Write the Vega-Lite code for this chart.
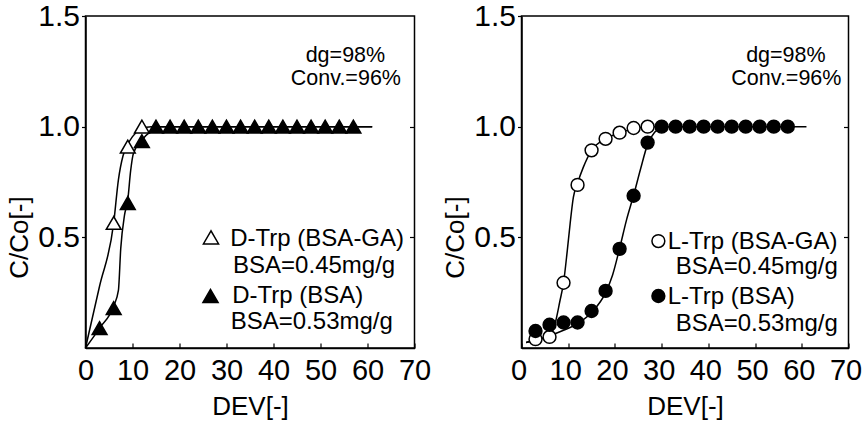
{
  "$schema": "https://vega.github.io/schema/vega-lite/v6.json",
  "background": "white",
  "padding": {"left": 5.5, "top": 0, "right": 0, "bottom": 0},
  "spacing": 10,
  "config": {
    "font": "Liberation Sans",
    "view": {"stroke": "black", "strokeWidth": 1.5},
    "axis": {"grid": false, "domainColor": "black", "tickColor": "black", "labelColor": "black", "titleColor": "black", "titleFontWeight": "normal", "labelFont": "Liberation Sans", "titleFont": "Liberation Sans", "domainWidth": 1.5, "tickWidth": 1.2}
  },
  "datasets": {
    "curves": [
      {"panel": "D", "series": "D-Trp (BSA-GA)", "x": 0, "y": 0},
      {"panel": "D", "series": "D-Trp (BSA-GA)", "x": 3, "y": 0.28},
      {"panel": "D", "series": "D-Trp (BSA-GA)", "x": 6, "y": 0.565},
      {"panel": "D", "series": "D-Trp (BSA-GA)", "x": 7, "y": 0.76},
      {"panel": "D", "series": "D-Trp (BSA-GA)", "x": 8, "y": 0.87},
      {"panel": "D", "series": "D-Trp (BSA-GA)", "x": 9, "y": 0.92},
      {"panel": "D", "series": "D-Trp (BSA-GA)", "x": 10, "y": 0.955},
      {"panel": "D", "series": "D-Trp (BSA-GA)", "x": 12, "y": 0.99},
      {"panel": "D", "series": "D-Trp (BSA-GA)", "x": 14, "y": 1.0},
      {"panel": "D", "series": "D-Trp (BSA-GA)", "x": 61, "y": 1.0},
      {"panel": "D", "series": "D-Trp (BSA)", "x": 0, "y": 0},
      {"panel": "D", "series": "D-Trp (BSA)", "x": 3, "y": 0.09},
      {"panel": "D", "series": "D-Trp (BSA)", "x": 6, "y": 0.19},
      {"panel": "D", "series": "D-Trp (BSA)", "x": 7, "y": 0.26},
      {"panel": "D", "series": "D-Trp (BSA)", "x": 7.5, "y": 0.45},
      {"panel": "D", "series": "D-Trp (BSA)", "x": 8.3, "y": 0.6},
      {"panel": "D", "series": "D-Trp (BSA)", "x": 9, "y": 0.67},
      {"panel": "D", "series": "D-Trp (BSA)", "x": 9.6, "y": 0.8},
      {"panel": "D", "series": "D-Trp (BSA)", "x": 10.2, "y": 0.88},
      {"panel": "D", "series": "D-Trp (BSA)", "x": 12, "y": 0.94},
      {"panel": "D", "series": "D-Trp (BSA)", "x": 14, "y": 0.98},
      {"panel": "D", "series": "D-Trp (BSA)", "x": 16, "y": 1.0},
      {"panel": "D", "series": "D-Trp (BSA)", "x": 61, "y": 1.0},
      {"panel": "L", "series": "L-Trp (BSA-GA)", "x": 1, "y": 0.025},
      {"panel": "L", "series": "L-Trp (BSA-GA)", "x": 3, "y": 0.037},
      {"panel": "L", "series": "L-Trp (BSA-GA)", "x": 6, "y": 0.05},
      {"panel": "L", "series": "L-Trp (BSA-GA)", "x": 7.3, "y": 0.12},
      {"panel": "L", "series": "L-Trp (BSA-GA)", "x": 8.2, "y": 0.21},
      {"panel": "L", "series": "L-Trp (BSA-GA)", "x": 9, "y": 0.295},
      {"panel": "L", "series": "L-Trp (BSA-GA)", "x": 9.8, "y": 0.44},
      {"panel": "L", "series": "L-Trp (BSA-GA)", "x": 10.4, "y": 0.56},
      {"panel": "L", "series": "L-Trp (BSA-GA)", "x": 11.1, "y": 0.68},
      {"panel": "L", "series": "L-Trp (BSA-GA)", "x": 12, "y": 0.745},
      {"panel": "L", "series": "L-Trp (BSA-GA)", "x": 13.2, "y": 0.815},
      {"panel": "L", "series": "L-Trp (BSA-GA)", "x": 15, "y": 0.893},
      {"panel": "L", "series": "L-Trp (BSA-GA)", "x": 18, "y": 0.945},
      {"panel": "L", "series": "L-Trp (BSA-GA)", "x": 21, "y": 0.972},
      {"panel": "L", "series": "L-Trp (BSA-GA)", "x": 24, "y": 0.99},
      {"panel": "L", "series": "L-Trp (BSA-GA)", "x": 27, "y": 1.0},
      {"panel": "L", "series": "L-Trp (BSA-GA)", "x": 30, "y": 1.0},
      {"panel": "L", "series": "L-Trp (BSA)", "x": 1, "y": 0.025},
      {"panel": "L", "series": "L-Trp (BSA)", "x": 3, "y": 0.035},
      {"panel": "L", "series": "L-Trp (BSA)", "x": 6, "y": 0.055},
      {"panel": "L", "series": "L-Trp (BSA)", "x": 9, "y": 0.08},
      {"panel": "L", "series": "L-Trp (BSA)", "x": 12, "y": 0.11},
      {"panel": "L", "series": "L-Trp (BSA)", "x": 15, "y": 0.16},
      {"panel": "L", "series": "L-Trp (BSA)", "x": 18, "y": 0.25},
      {"panel": "L", "series": "L-Trp (BSA)", "x": 19.5, "y": 0.33},
      {"panel": "L", "series": "L-Trp (BSA)", "x": 21, "y": 0.45},
      {"panel": "L", "series": "L-Trp (BSA)", "x": 22.5, "y": 0.58},
      {"panel": "L", "series": "L-Trp (BSA)", "x": 24, "y": 0.69},
      {"panel": "L", "series": "L-Trp (BSA)", "x": 25.5, "y": 0.81},
      {"panel": "L", "series": "L-Trp (BSA)", "x": 27, "y": 0.92},
      {"panel": "L", "series": "L-Trp (BSA)", "x": 28.5, "y": 0.975},
      {"panel": "L", "series": "L-Trp (BSA)", "x": 30, "y": 0.995},
      {"panel": "L", "series": "L-Trp (BSA)", "x": 32, "y": 1.0},
      {"panel": "L", "series": "L-Trp (BSA)", "x": 61, "y": 1.0}
    ],
    "points": [
      {"panel": "D", "series": "D-Trp (BSA-GA)", "x": 6, "y": 0.565},
      {"panel": "D", "series": "D-Trp (BSA-GA)", "x": 9, "y": 0.91},
      {"panel": "D", "series": "D-Trp (BSA-GA)", "x": 12, "y": 1.0},
      {"panel": "D", "series": "D-Trp (BSA)", "x": 3, "y": 0.09},
      {"panel": "D", "series": "D-Trp (BSA)", "x": 6, "y": 0.18},
      {"panel": "D", "series": "D-Trp (BSA)", "x": 9, "y": 0.655},
      {"panel": "D", "series": "D-Trp (BSA)", "x": 12, "y": 0.935},
      {"panel": "D", "series": "D-Trp (BSA)", "x": 15, "y": 1.0},
      {"panel": "D", "series": "D-Trp (BSA)", "x": 18, "y": 1.0},
      {"panel": "D", "series": "D-Trp (BSA)", "x": 21, "y": 1.0},
      {"panel": "D", "series": "D-Trp (BSA)", "x": 24, "y": 1.0},
      {"panel": "D", "series": "D-Trp (BSA)", "x": 27, "y": 1.0},
      {"panel": "D", "series": "D-Trp (BSA)", "x": 30, "y": 1.0},
      {"panel": "D", "series": "D-Trp (BSA)", "x": 33, "y": 1.0},
      {"panel": "D", "series": "D-Trp (BSA)", "x": 36, "y": 1.0},
      {"panel": "D", "series": "D-Trp (BSA)", "x": 39, "y": 1.0},
      {"panel": "D", "series": "D-Trp (BSA)", "x": 42, "y": 1.0},
      {"panel": "D", "series": "D-Trp (BSA)", "x": 45, "y": 1.0},
      {"panel": "D", "series": "D-Trp (BSA)", "x": 48, "y": 1.0},
      {"panel": "D", "series": "D-Trp (BSA)", "x": 51, "y": 1.0},
      {"panel": "D", "series": "D-Trp (BSA)", "x": 54, "y": 1.0},
      {"panel": "D", "series": "D-Trp (BSA)", "x": 57, "y": 1.0},
      {"panel": "L", "series": "L-Trp (BSA-GA)", "x": 3, "y": 0.04},
      {"panel": "L", "series": "L-Trp (BSA-GA)", "x": 6, "y": 0.05},
      {"panel": "L", "series": "L-Trp (BSA-GA)", "x": 9, "y": 0.295},
      {"panel": "L", "series": "L-Trp (BSA-GA)", "x": 12, "y": 0.737},
      {"panel": "L", "series": "L-Trp (BSA-GA)", "x": 15, "y": 0.893},
      {"panel": "L", "series": "L-Trp (BSA-GA)", "x": 18, "y": 0.945},
      {"panel": "L", "series": "L-Trp (BSA-GA)", "x": 21, "y": 0.973},
      {"panel": "L", "series": "L-Trp (BSA-GA)", "x": 24, "y": 0.994},
      {"panel": "L", "series": "L-Trp (BSA-GA)", "x": 27, "y": 1.0},
      {"panel": "L", "series": "L-Trp (BSA)", "x": 3, "y": 0.077},
      {"panel": "L", "series": "L-Trp (BSA)", "x": 6, "y": 0.105},
      {"panel": "L", "series": "L-Trp (BSA)", "x": 9, "y": 0.115},
      {"panel": "L", "series": "L-Trp (BSA)", "x": 12, "y": 0.115},
      {"panel": "L", "series": "L-Trp (BSA)", "x": 15, "y": 0.167},
      {"panel": "L", "series": "L-Trp (BSA)", "x": 18, "y": 0.258},
      {"panel": "L", "series": "L-Trp (BSA)", "x": 21, "y": 0.448},
      {"panel": "L", "series": "L-Trp (BSA)", "x": 24, "y": 0.688},
      {"panel": "L", "series": "L-Trp (BSA)", "x": 27, "y": 0.928},
      {"panel": "L", "series": "L-Trp (BSA)", "x": 30, "y": 1.0},
      {"panel": "L", "series": "L-Trp (BSA)", "x": 33, "y": 1.0},
      {"panel": "L", "series": "L-Trp (BSA)", "x": 36, "y": 1.0},
      {"panel": "L", "series": "L-Trp (BSA)", "x": 39, "y": 1.0},
      {"panel": "L", "series": "L-Trp (BSA)", "x": 42, "y": 1.0},
      {"panel": "L", "series": "L-Trp (BSA)", "x": 45, "y": 1.0},
      {"panel": "L", "series": "L-Trp (BSA)", "x": 48, "y": 1.0},
      {"panel": "L", "series": "L-Trp (BSA)", "x": 51, "y": 1.0},
      {"panel": "L", "series": "L-Trp (BSA)", "x": 54, "y": 1.0},
      {"panel": "L", "series": "L-Trp (BSA)", "x": 57, "y": 1.0}
    ],
    "keys": [
      {"panel": "D", "series": "D-Trp (BSA-GA)", "x": 26.7, "y": 0.5},
      {"panel": "D", "series": "D-Trp (BSA)", "x": 26.6, "y": 0.235},
      {"panel": "L", "series": "L-Trp (BSA-GA)", "x": 29.3, "y": 0.483},
      {"panel": "L", "series": "L-Trp (BSA)", "x": 29.3, "y": 0.235}
    ],
    "labels": [
      {"panel": "D", "text": "D-Trp (BSA-GA)", "x": 30.8, "y": 0.461},
      {"panel": "D", "text": "BSA=0.45mg/g", "x": 31.4, "y": 0.339},
      {"panel": "D", "text": "D-Trp (BSA)", "x": 31.2, "y": 0.203},
      {"panel": "D", "text": "BSA=0.53mg/g", "x": 30.9, "y": 0.086},
      {"panel": "L", "text": "L-Trp (BSA-GA)", "x": 31.3, "y": 0.447},
      {"panel": "L", "text": "BSA=0.45mg/g", "x": 33.0, "y": 0.334},
      {"panel": "L", "text": "L-Trp (BSA)", "x": 31.3, "y": 0.199},
      {"panel": "L", "text": "BSA=0.53mg/g", "x": 33.0, "y": 0.077}
    ],
    "stats": [
      {"panel": "D", "text": "dg=98%", "x": 55.3, "y": 1.29},
      {"panel": "D", "text": "Conv.=96%", "x": 55.4, "y": 1.19},
      {"panel": "L", "text": "dg=98%", "x": 56.6, "y": 1.29},
      {"panel": "L", "text": "Conv.=96%", "x": 56.7, "y": 1.19}
    ]
  },
  "hconcat": [
    {
      "width": 329,
      "height": 332,
      "resolve": {"axis": {"y": "independent"}},
      "layer": [
        {
          "data": {"name": "curves"},
          "transform": [{"filter": "datum.panel === 'D'"}],
          "mark": {"type": "line", "interpolate": "monotone", "color": "black", "strokeWidth": 1.5},
          "encoding": {
            "x": {"field": "x", "type": "quantitative", "scale": {"domain": [0, 70], "nice": false},
              "axis": {"values": [0, 10, 20, 30, 40, 50, 60, 70], "title": "DEV[-]", "titleFontSize": 26, "labelFontSize": 29, "labelFlush": false, "labelOverlap": false, "tickSize": -5, "labelPadding": 13, "titlePadding": 8}},
            "y": {"field": "y", "type": "quantitative", "scale": {"domain": [0, 1.5], "nice": false},
              "axis": {"values": [0.5, 1.0, 1.5], "format": ".1f", "title": "C/Co[-]", "titleFontSize": 26, "labelFontSize": 30, "tickSize": 4, "labelPadding": 2, "titlePadding": 5, "titleY": 221}},
            "detail": {"field": "series"}
          }
        },
        {
          "data": {"name": "points"},
          "transform": [{"filter": "datum.panel === 'D'"}],
          "mark": {"type": "point", "filled": false, "stroke": "black", "strokeWidth": 1.5, "size": 220, "opacity": 1},
          "encoding": {
            "x": {"field": "x", "type": "quantitative"},
            "y": {"field": "y", "type": "quantitative", "axis": {"orient": "right", "values": [0.5, 1.0], "labels": false, "title": null, "tickSize": -5, "domain": false}},
            "shape": {"field": "series", "type": "nominal", "scale": {"domain": ["D-Trp (BSA-GA)", "D-Trp (BSA)", "L-Trp (BSA-GA)", "L-Trp (BSA)"], "range": ["triangle-up", "triangle-up", "circle", "circle"]}, "legend": null},
            "fill": {"field": "series", "type": "nominal", "scale": {"domain": ["D-Trp (BSA-GA)", "D-Trp (BSA)", "L-Trp (BSA-GA)", "L-Trp (BSA)"], "range": ["white", "black", "white", "black"]}, "legend": null}
          }
        },
        {
          "data": {"name": "keys"},
          "transform": [{"filter": "datum.panel === 'D'"}],
          "mark": {"type": "point", "filled": false, "stroke": "black", "strokeWidth": 1.5, "size": 230, "opacity": 1},
          "encoding": {
            "x": {"field": "x", "type": "quantitative"},
            "y": {"field": "y", "type": "quantitative", "axis": null},
            "shape": {"field": "series", "type": "nominal", "legend": null},
            "fill": {"field": "series", "type": "nominal", "legend": null}
          }
        },
        {
          "data": {"name": "labels"},
          "transform": [{"filter": "datum.panel === 'D'"}],
          "mark": {"type": "text", "align": "left", "baseline": "alphabetic", "fontSize": 24, "color": "black"},
          "encoding": {
            "x": {"field": "x", "type": "quantitative"},
            "y": {"field": "y", "type": "quantitative", "axis": null},
            "text": {"field": "text"}
          }
        },
        {
          "data": {"name": "stats"},
          "transform": [{"filter": "datum.panel === 'D'"}],
          "mark": {"type": "text", "align": "center", "baseline": "alphabetic", "fontSize": 21.5, "color": "black"},
          "encoding": {
            "x": {"field": "x", "type": "quantitative"},
            "y": {"field": "y", "type": "quantitative", "axis": null},
            "text": {"field": "text"}
          }
        }
      ]
    },
    {
      "width": 327,
      "height": 332,
      "resolve": {"axis": {"y": "independent"}},
      "layer": [
        {
          "data": {"name": "curves"},
          "transform": [{"filter": "datum.panel === 'L'"}],
          "mark": {"type": "line", "interpolate": "monotone", "color": "black", "strokeWidth": 1.5},
          "encoding": {
            "x": {"field": "x", "type": "quantitative", "scale": {"domain": [0, 70], "nice": false},
              "axis": {"values": [0, 10, 20, 30, 40, 50, 60, 70], "title": "DEV[-]", "titleFontSize": 26, "labelFontSize": 29, "labelFlush": false, "labelOverlap": false, "tickSize": -5, "labelPadding": 13, "labelOffset": -3, "titlePadding": 8}},
            "y": {"field": "y", "type": "quantitative", "scale": {"domain": [0, 1.5], "nice": false},
              "axis": {"values": [0.5, 1.0, 1.5], "format": ".1f", "title": "C/Co[-]", "titleFontSize": 26, "labelFontSize": 30, "tickSize": 4, "labelPadding": 2, "titlePadding": 5, "titleY": 221}},
            "detail": {"field": "series"}
          }
        },
        {
          "data": {"name": "points"},
          "transform": [{"filter": "datum.panel === 'L'"}],
          "mark": {"type": "point", "filled": false, "stroke": "black", "strokeWidth": 1.5, "size": 165, "opacity": 1},
          "encoding": {
            "x": {"field": "x", "type": "quantitative"},
            "y": {"field": "y", "type": "quantitative", "axis": {"orient": "right", "values": [0.5, 1.0], "labels": false, "title": null, "tickSize": -5, "domain": false}},
            "shape": {"field": "series", "type": "nominal", "scale": {"domain": ["D-Trp (BSA-GA)", "D-Trp (BSA)", "L-Trp (BSA-GA)", "L-Trp (BSA)"], "range": ["triangle-up", "triangle-up", "circle", "circle"]}, "legend": null},
            "fill": {"field": "series", "type": "nominal", "scale": {"domain": ["D-Trp (BSA-GA)", "D-Trp (BSA)", "L-Trp (BSA-GA)", "L-Trp (BSA)"], "range": ["white", "black", "white", "black"]}, "legend": null}
          }
        },
        {
          "data": {"name": "keys"},
          "transform": [{"filter": "datum.panel === 'L'"}],
          "mark": {"type": "point", "filled": false, "stroke": "black", "strokeWidth": 1.5, "size": 165, "opacity": 1},
          "encoding": {
            "x": {"field": "x", "type": "quantitative"},
            "y": {"field": "y", "type": "quantitative", "axis": null},
            "shape": {"field": "series", "type": "nominal", "legend": null},
            "fill": {"field": "series", "type": "nominal", "legend": null}
          }
        },
        {
          "data": {"name": "labels"},
          "transform": [{"filter": "datum.panel === 'L'"}],
          "mark": {"type": "text", "align": "left", "baseline": "alphabetic", "fontSize": 24, "color": "black"},
          "encoding": {
            "x": {"field": "x", "type": "quantitative"},
            "y": {"field": "y", "type": "quantitative", "axis": null},
            "text": {"field": "text"}
          }
        },
        {
          "data": {"name": "stats"},
          "transform": [{"filter": "datum.panel === 'L'"}],
          "mark": {"type": "text", "align": "center", "baseline": "alphabetic", "fontSize": 21.5, "color": "black"},
          "encoding": {
            "x": {"field": "x", "type": "quantitative"},
            "y": {"field": "y", "type": "quantitative", "axis": null},
            "text": {"field": "text"}
          }
        }
      ]
    }
  ]
}
